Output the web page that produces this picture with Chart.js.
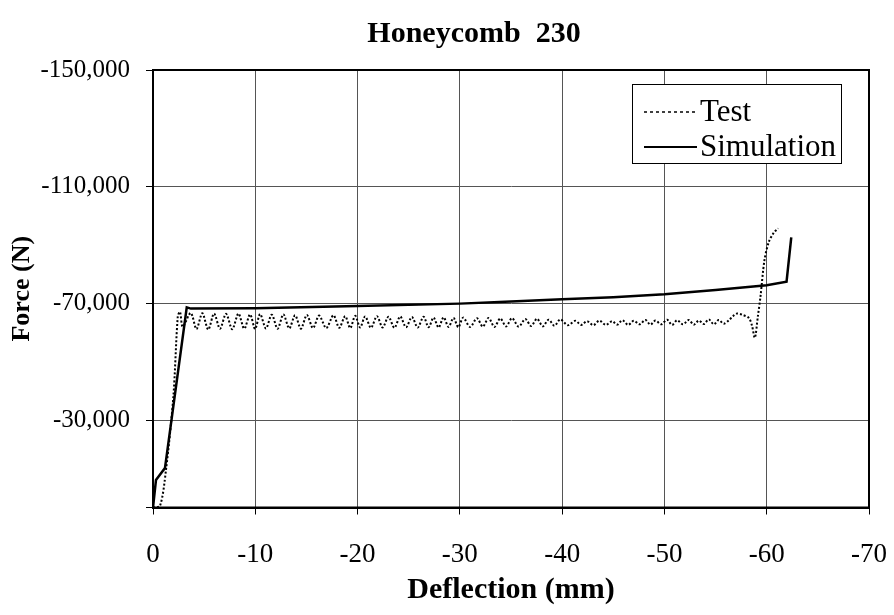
<!DOCTYPE html>
<html>
<head>
<meta charset="utf-8">
<script src="https://cdn.jsdelivr.net/npm/chart.js@4.4.1/dist/chart.umd.min.js"></script>
<style>
  html, body { margin: 0; padding: 0; background: #fff; }
</style>
</head>
<body>
<canvas id="graficoPanal" width="894" height="615"></canvas>
<script>
// datos (mm, N)
const testDeflection = [0, -0.68, -1.27, -1.99, -2.42, -2.64, -2.91,
  -3.69, -4.25, -4.82, -5.40, -5.97, -6.55, -7.14, -7.75, -8.35, -8.92, -9.49, -9.98,
  -10.47, -11.04, -11.61, -12.18, -12.75, -13.32, -13.89, -14.46, -15.04, -15.64,
  -16.24, -16.94, -17.64, -18.21, -18.79, -19.28, -19.77, -20.25, -20.74, -21.31,
  -21.89, -22.45, -23.02, -23.60, -24.17, -24.74, -25.31, -25.88, -26.45, -26.94,
  -27.43, -27.92, -28.41, -28.90, -29.38, -29.85, -30.33, -31.00, -31.67, -32.24,
  -32.81, -33.38, -33.95, -34.52, -35.10, -35.75, -36.40, -36.97, -37.54, -38.11,
  -38.68, -39.25, -39.82, -40.55, -41.29, -41.86, -42.44, -43.04, -43.64, -44.26,
  -44.88, -45.38, -45.89, -46.45, -47.00, -47.57, -48.14, -48.63, -49.12, -49.69,
  -50.26, -50.75, -51.24, -51.81, -52.38, -52.87, -53.36, -53.85, -54.34, -54.83,
  -55.31, -55.80, -56.30, -56.70, -57.11, -57.60, -58.25, -58.55, -58.84, -59.13,
  -59.39, -59.78, -60.21, -60.69, -61.12];
const testForce = [0, -500, -12900, -38000, -65400, -67100, -62000,
  -66700, -61200, -66600, -61000, -66500, -61300, -66400, -61100, -66500, -61300, -66200, -61200,
  -66300, -61400, -66100, -61300, -66200, -61400, -65900, -61300, -66000, -61500,
  -65800, -61500, -65900, -61600, -65600, -61500, -65700, -61700, -65500, -61600,
  -65600, -61700, -65400, -61600, -65500, -61800, -65300, -61700, -65400, -61800,
  -65100, -61700, -65200, -61900, -65000, -61800, -65100, -61900, -64900, -62000,
  -65000, -61900, -64800, -62100, -64900, -62000, -64600, -62200, -64700, -62100,
  -64400, -62300, -64500, -62500, -64000, -62600, -63900, -62500, -64100, -62600,
  -63900, -62700, -64200, -62600, -64000, -62800, -64300, -62700, -64100, -62800,
  -64400, -62600, -64200, -62800, -64300, -62700, -64100, -62900, -64500, -62800,
  -64300, -63000, -64200, -65600, -66500, -66100, -65000, -62500, -58200, -65400,
  -72300, -84800, -91100, -94200, -95700];

const simDeflection = [0, -0.29, -1.17, -3.30, -3.70, -10, -20, -30, -35, -40, -45, -50, -55, -60, -61.94, -62.40];
const simForce = [0, -9400, -13500, -68600, -68200, -68300, -69100, -69900, -70600, -71400, -72100, -73100, -74600, -76200, -77400, -92600];

const xTicks = [0, -10, -20, -30, -40, -50, -60, -70];
const yTicks = [-150000, -110000, -70000, -30000, 0];

const toPoints = (xs, ys) => xs.map((x, i) => ({ x: x, y: ys[i] }));

const serif = "'Liberation Serif', 'Times New Roman', serif";

const test = {
  label: "Test",
  data: toPoints(testDeflection, testForce),
  borderColor: "#000",
  borderWidth: 2,
  borderDash: [2, 2],
  pointRadius: 0,
  tension: 0.3,
  fill: false,
};

const simulation = {
  label: "Simulation",
  data: toPoints(simDeflection, simForce),
  borderColor: "#000",
  borderWidth: 2.5,
  pointRadius: 0,
  tension: 0,
  fill: false,
};

// marco del area, titulo y leyenda
const extras = {
  id: "extras",
  afterDatasetsDraw(chart) {
    const { ctx, chartArea: a } = chart;
    ctx.save();
    ctx.strokeStyle = "#000";
    ctx.lineWidth = 2;
    ctx.strokeRect(a.left, a.top, a.right - a.left, a.bottom - a.top);
    ctx.restore();
  },
  afterDraw(chart) {
    const ctx = chart.ctx;
    ctx.save();
    ctx.fillStyle = "#000";
    ctx.font = "bold 30px " + serif;
    ctx.textAlign = "center";
    ctx.textBaseline = "middle";
    ctx.fillText("Honeycomb  230", 474, 34);

    // leyenda
    const bx = 632, by = 84, bw = 209, bh = 79;
    ctx.fillStyle = "#fff";
    ctx.fillRect(bx, by, bw, bh);
    ctx.strokeStyle = "#000";
    ctx.lineWidth = 1;
    ctx.strokeRect(bx + 0.5, by + 0.5, bw, bh);
    ctx.font = "31px " + serif;
    ctx.textAlign = "left";
    ctx.textBaseline = "alphabetic";
    chart.data.datasets.forEach((ds, i) => {
      const yBase = 121 + i * 35;
      const yLine = yBase - 9;
      ctx.beginPath();
      ctx.setLineDash(ds.borderDash ? [3, 3] : []);
      ctx.lineWidth = ds.borderWidth > 2 ? 2 : 1.5;
      ctx.strokeStyle = ds.borderColor;
      ctx.moveTo(644, yLine);
      ctx.lineTo(697, yLine);
      ctx.stroke();
      ctx.setLineDash([]);
      ctx.fillStyle = "#000";
      ctx.fillText(ds.label, 700, yBase);
    });
    ctx.restore();
  },
};

new Chart(document.getElementById("graficoPanal"), {
  type: "line",
  data: { datasets: [test, simulation] },
  options: {
    responsive: false,
    animation: false,
    devicePixelRatio: 1,
    layout: { padding: { top: 70, right: 25, bottom: 0, left: 0 } },
    plugins: {
      legend: { display: false },
      title: { display: false },
      tooltip: { enabled: false },
    },
    scales: {
      x: {
        type: "linear",
        min: -70,
        max: 0,
        reverse: true,
        afterBuildTicks: (s) => { s.ticks = xTicks.map((v) => ({ value: v })); },
        afterFit: (s) => { s.height = 107.5; s.paddingLeft = 0; s.paddingRight = 0; },
        ticks: {
          color: "#000",
          padding: 24,
          maxRotation: 0,
          font: { family: serif, size: 27 },
          callback: (v) => String(v),
        },
        grid: { color: "#555", lineWidth: 1, tickLength: 7, tickColor: "#000" },
        border: { color: "#000", width: 2 },
        title: {
          display: true,
          text: "Deflection (mm)",
          color: "#000",
          font: { family: serif, size: 30, weight: "bold" },
          padding: { top: 0, bottom: 7 },
        },
      },
      y: {
        type: "linear",
        min: -150000,
        max: 0,
        reverse: true,
        afterBuildTicks: (s) => { s.ticks = yTicks.map((v) => ({ value: v })); },
        afterFit: (s) => { s.width = 153; },
        ticks: {
          color: "#000",
          padding: 16,
          font: { family: serif, size: 25 },
          callback: (v) => (v === 0 ? "" : v.toLocaleString("en-US")),
        },
        grid: { color: "#555", lineWidth: 1, tickLength: 7, tickColor: "#000" },
        border: { color: "#000", width: 2 },
        title: {
          display: true,
          text: "Force (N)",
          color: "#000",
          font: { family: serif, size: 26, weight: "bold" },
          padding: { top: 7, bottom: 0 },
        },
      },
    },
  },
  plugins: [extras],
});
</script>
</body>
</html>
